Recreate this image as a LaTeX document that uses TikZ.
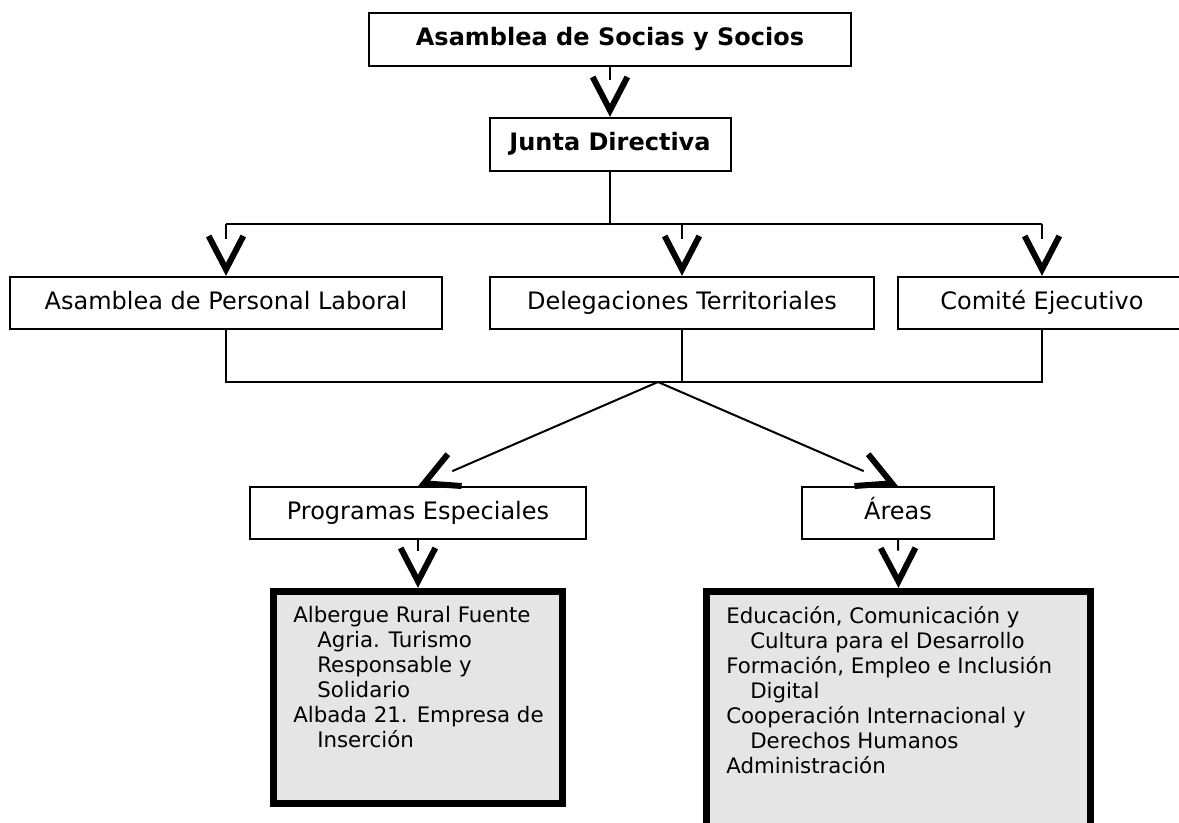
\documentclass[tikz,border=0pt]{standalone}
\usepackage{fontspec}
\setmainfont{DejaVu Sans}
\usetikzlibrary{arrows.meta}
\pgfdeclarearrow{
  name = Vhead,
  setup code = {
    \pgfarrowssettipend{0pt}
    \pgfarrowssetlineend{-28pt}
    \pgfarrowssetbackend{-31pt}
    \pgfarrowshullpoint{0pt}{0pt}
    \pgfarrowshullpoint{-31pt}{15pt}
    \pgfarrowshullpoint{-31pt}{-15pt}
  },
  drawing code = {
    \pgfsetlinewidth{4.5pt}
    \pgfsetmiterjoin
    \pgfsetbuttcap
    \pgfsetdash{}{0pt}
    \pgfpathmoveto{\pgfqpoint{-30pt}{13pt}}
    \pgfpathlineto{\pgfqpoint{-5pt}{0pt}}
    \pgfpathlineto{\pgfqpoint{-30pt}{-13pt}}
    \pgfusepathqstroke
  }
}
\definecolor{boxgray}{RGB}{229,229,229}
\tikzset{
  orgbox/.style={draw=black, line width=1.5pt, fill=white, inner sep=0pt,
    minimum height=39pt, text height=13.7pt, text depth=4.3pt,
    font=\fontsize{18pt}{21pt}\selectfont},
  boldbox/.style={orgbox, minimum height=39.75pt, font=\fontsize{18pt}{21pt}\selectfont\bfseries},
  graybox/.style={draw=black, line width=5.25pt, fill=boxgray, inner sep=0pt},
  graytext/.style={inner sep=0pt, align=left, anchor=north west,
    font=\fontsize{16pt}{18.75pt}\selectfont},
  conn/.style={line width=1.5pt, draw=black},
  arr/.style={conn, -Vhead},
}
\begin{document}
\begin{tikzpicture}[x=0.75pt, y=-0.75pt]
\useasboundingbox (0,0) rectangle (1179,823);
% boxes
\node[boldbox, minimum width=361.5pt] (A) at (610,39.5) {Asamblea de Socias y Socios};
\node[boldbox, minimum width=180.75pt] (J) at (610,144.5) {Junta Directiva};
\node[orgbox, minimum width=324pt] (P1) at (226,303) {Asamblea de Personal Laboral};
\node[orgbox, minimum width=288pt] (P2) at (682,303) {Delegaciones Territoriales};
\node[orgbox, minimum width=216pt] (P3) at (1042,303) {Comité Ejecutivo};
\node[orgbox, minimum width=252pt] (PE) at (418,513) {Programas Especiales};
\node[orgbox, minimum width=144pt] (AR) at (898,513) {Áreas};
\node[graybox, minimum width=216.75pt, minimum height=159pt] (G1) at (418,697.5) {};
\node[graybox, minimum width=288pt, minimum height=231pt] (G2) at (898.5,745.5) {};
\node[graytext] (T1) at (293,606) {Albergue Rural Fuente\\
\hspace*{18pt}Agria. Turismo\\
\hspace*{18pt}Responsable y\\
\hspace*{18pt}Solidario\\
Albada 21. Empresa de\\
\hspace*{18pt}Inserción};
\node[graytext] (T2) at (726,606) {Educación, Comunicación y\\
\hspace*{18pt}Cultura para el Desarrollo\\
Formación, Empleo e Inclusión\\
\hspace*{18pt}Digital\\
Cooperación Internacional y\\
\hspace*{18pt}Derechos Humanos\\
Administración};
% junction points
\coordinate (jt) at (610,224);
\coordinate (jb) at (658,382);
% connectors
\draw[arr] (A.south) -- (J.north);
\draw[conn] (J.south) -- (jt);
\draw[conn] (P1.north |- jt) -- (P3.north |- jt);
\draw[arr] (P1.north |- jt) -- (P1.north);
\draw[arr] (P2.north |- jt) -- (P2.north);
\draw[arr] (P3.north |- jt) -- (P3.north);
\draw[conn] (P1.south) -- (P1.south |- jb) -- (P3.south |- jb) -- (P3.south);
\draw[conn] (P2.south) -- (P2.south |- jb);
\draw[arr] (jb) -- (PE.north);
\draw[arr] (jb) -- (AR.north);
\draw[arr] (PE.south) -- (G1.north);
\draw[arr] (AR.south) -- (G2.north);
\end{tikzpicture}
\end{document}
